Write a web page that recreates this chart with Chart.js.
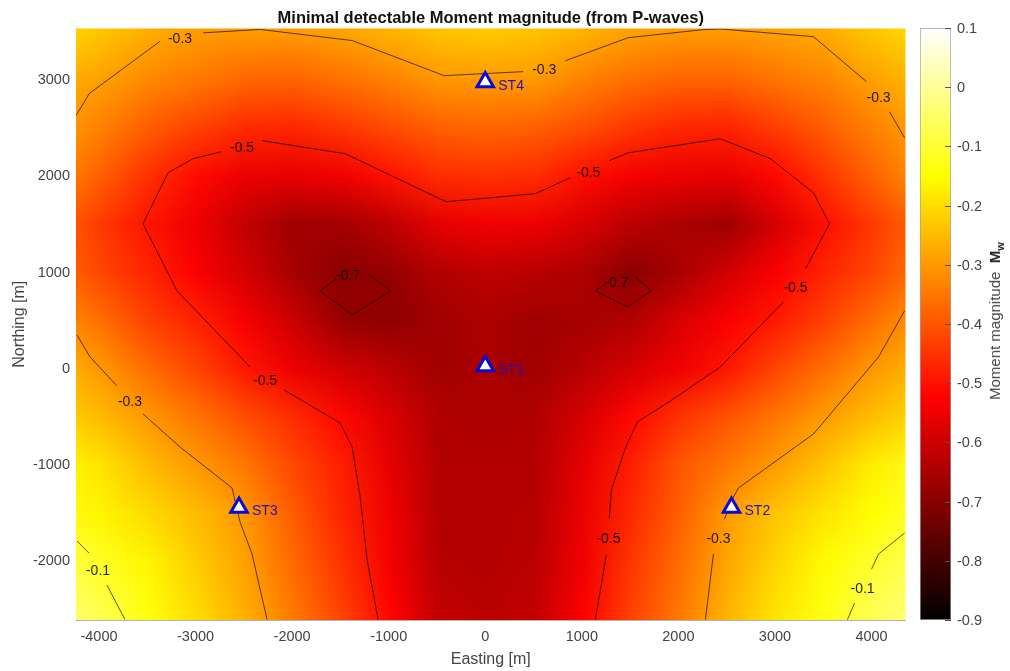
<!DOCTYPE html>
<html>
<head>
<meta charset="utf-8">
<title>Minimal detectable Moment magnitude</title>
<script src="https://cdn.jsdelivr.net/npm/chart.js@4/dist/chart.umd.min.js"></script>
<style>
  body { margin: 0; background: #fff; }
  #wrap { position: relative; width: 1010px; height: 671px; overflow: hidden; filter: blur(0.4px); }
  canvas { position: absolute; top: 0; }
  #mapChart { left: 0; }
  #barChart { left: 910px; }
  #barLabel {
    position: absolute; left: 996px; top: 321px; white-space: pre;
    transform: translate(-50%, -50%) rotate(-90deg);
    font: 15px "Liberation Sans", Arial, sans-serif; color: #444;
  }
  #barLabel b { color: #222; font-size: 15px; }
  #barLabel sub { font-size: 11px; }
</style>
</head>
<body>
<div id="wrap">
  <canvas id="mapChart" width="918" height="671"></canvas>
  <canvas id="barChart" width="100" height="671"></canvas>
  <div id="barLabel">Moment magnitude  <b>M<sub>w</sub></b></div>
</div>
<script>
// Grid, one row per northing, columns follow gridEast
const gridEast = [-4500, -4000, -3500, -3000, -2500, -2000, -1500, -1000, -500, 0, 500, 1000, 1500, 2000, 2500, 3000, 3500, 4000, 4500];
const gridNorth = [3500, 3000, 2500, 2000, 1500, 1000, 500, 0, -500, -1000, -1500, -2000, -2500, -3000];
const row3500 = [-0.20, -0.235, -0.27, -0.295, -0.30, -0.30, -0.285, -0.265, -0.24, -0.23, -0.24, -0.265, -0.29, -0.30, -0.30, -0.29, -0.275, -0.235, -0.20];
const row3000 = [-0.26, -0.29, -0.325, -0.35, -0.375, -0.38, -0.36, -0.335, -0.305, -0.30, -0.30, -0.335, -0.365, -0.38, -0.38, -0.355, -0.33, -0.29, -0.25];
const row2500 = [-0.29, -0.335, -0.39, -0.43, -0.465, -0.47, -0.445, -0.415, -0.385, -0.375, -0.385, -0.41, -0.445, -0.47, -0.475, -0.435, -0.39, -0.335, -0.285];
const row2000 = [-0.32, -0.385, -0.455, -0.51, -0.555, -0.56, -0.545, -0.50, -0.46, -0.455, -0.46, -0.505, -0.54, -0.555, -0.56, -0.515, -0.45, -0.38, -0.31];
const row1500 = [-0.37, -0.44, -0.495, -0.55, -0.615, -0.665, -0.66, -0.62, -0.565, -0.545, -0.55, -0.585, -0.625, -0.65, -0.665, -0.585, -0.505, -0.44, -0.37];
const row1000 = [-0.36, -0.42, -0.47, -0.53, -0.59, -0.655, -0.695, -0.68, -0.64, -0.62, -0.63, -0.645, -0.695, -0.65, -0.59, -0.53, -0.47, -0.42, -0.35];
const row500 = [-0.31, -0.36, -0.43, -0.475, -0.535, -0.60, -0.675, -0.69, -0.665, -0.645, -0.665, -0.655, -0.64, -0.58, -0.53, -0.485, -0.43, -0.36, -0.30];
const row0 = [-0.25, -0.30, -0.365, -0.425, -0.49, -0.55, -0.59, -0.625, -0.66, -0.65, -0.66, -0.63, -0.585, -0.545, -0.49, -0.42, -0.36, -0.30, -0.255];
const rowS500 = [-0.205, -0.25, -0.30, -0.355, -0.41, -0.46, -0.515, -0.58, -0.64, -0.645, -0.64, -0.585, -0.515, -0.45, -0.40, -0.35, -0.295, -0.245, -0.20];
const rowS1000 = [-0.14, -0.19, -0.25, -0.30, -0.35, -0.42, -0.48, -0.56, -0.635, -0.635, -0.635, -0.56, -0.48, -0.40, -0.345, -0.295, -0.235, -0.175, -0.12];
const rowS1500 = [-0.125, -0.165, -0.205, -0.25, -0.305, -0.39, -0.47, -0.545, -0.635, -0.635, -0.63, -0.55, -0.465, -0.385, -0.295, -0.235, -0.19, -0.15, -0.10];
const rowS2000 = [-0.07, -0.115, -0.165, -0.225, -0.29, -0.37, -0.45, -0.54, -0.63, -0.635, -0.625, -0.545, -0.445, -0.365, -0.28, -0.21, -0.155, -0.105, -0.06];
const rowS2500 = [-0.03, -0.075, -0.14, -0.205, -0.27, -0.35, -0.43, -0.52, -0.615, -0.63, -0.615, -0.525, -0.43, -0.35, -0.26, -0.19, -0.135, -0.07, -0.03];
const rowS3000 = [-0.01, -0.05, -0.12, -0.185, -0.25, -0.33, -0.41, -0.50, -0.60, -0.615, -0.60, -0.505, -0.41, -0.33, -0.24, -0.17, -0.115, -0.05, -0.01];
const gridRows = [row3500, row3000, row2500, row2000, row1500, row1000, row500, row0, rowS500, rowS1000, rowS1500, rowS2000, rowS2500, rowS3000];

// Contour pieces, broken where the labels sit
const contourMinus01 = [
  [[-4228, -1798], [-4104, -1923]],
  [[-3917, -2256], [-3731, -2614]],
  [[4342, -1715], [4073, -1933], [4000, -2090]],
  [[3824, -2443], [3751, -2614]]
];
const contourMinus03 = [
  [[-4238, 2620], [-4100, 2850], [-3370, 3390]],
  [[-2920, 3480], [-2330, 3515], [-1378, 3400], [-425, 3035], [394, 3077]],
  [[829, 3190], [1482, 3430], [2260, 3513], [2435, 3520], [3399, 3440], [3948, 2973]],
  [[4187, 2660], [4342, 2390]],
  [[-4228, 343], [-4093, 114], [-3813, -187]],
  [[-3544, -478], [-3161, -821], [-2622, -1247], [-2539, -1601], [-2415, -1933], [-2259, -2614]],
  [[4342, 592], [4073, 114], [3399, -686], [2622, -1247], [2570, -1341], [2477, -1570]],
  [[2363, -1933], [2280, -2614]]
];
const contourMinus05 = [
  [[-2435, 10], [-3192, 800], [-3544, 1497], [-3285, 2027], [-3026, 2173], [-2736, 2245]],
  [[-2311, 2360], [-1451, 2225], [-404, 1726], [518, 1809], [881, 1975]],
  [[1285, 2152], [1482, 2235], [2435, 2380], [2953, 2173], [3399, 1819], [3565, 1497], [3316, 1029]],
  [[3088, 686], [2435, 10], [1917, -343], [1575, -561], [1451, -832], [1306, -1268], [1285, -1570]],
  [[1254, -1944], [1140, -2614]],
  [[-2083, -229], [-1503, -572], [-1378, -821], [-1295, -1341], [-1223, -1996], [-1109, -2614]]
];
const contourMinus07 = [
  [[-1710, 800], [-1544, 925]],
  [[-1223, 977], [-974, 800], [-1378, 551], [-1710, 800]],
  [[1140, 800], [1264, 884]],
  [[1554, 946], [1720, 800], [1472, 634], [1140, 800]]
];
const contourLabels = ['-0.3', '-0.3', '-0.3', '-0.5', '-0.5', '-0.5', '-0.7', '-0.7', '-0.5', '-0.3', '-0.5', '-0.3', '-0.1', '-0.1'];
const contourLabelEast = [-3161, 611, 4073, -2518, 1067, 3212, -1420, 1358, -2280, -3679, 1275, 2415, -4010, 3907];
const contourLabelNorth = [3430, 3108, 2807, 2297, 2037, 842, 967, 894, -125, -343, -1767, -1767, -2100, -2287];

const stationNames = ['ST1', 'ST2', 'ST3', 'ST4'];
const stationEast = [0, 2550, -2550, 0];
const stationNorth = [20, -1450, -1450, 2970];

const eastingTicks = [-4000, -3000, -2000, -1000, 0, 1000, 2000, 3000, 4000];
const northingTicks = [-2000, -1000, 0, 1000, 2000, 3000];
const colorbarTicks = [-0.9, -0.8, -0.7, -0.6, -0.5, -0.4, -0.3, -0.2, -0.1, 0, 0.1];
const colorbarKnots = [-0.9, -0.525, -0.15, 0.1];

const fontName = '"Liberation Sans", Arial, sans-serif';
const textGrey = '#444';

// matlab "hot" colormap over -0.9 .. 0.1
function hotColor(v) {
  const t = Math.min(1, Math.max(0, v + 0.9));
  return [
    Math.round(255 * Math.min(1, t / 0.375)),
    Math.round(255 * Math.min(1, Math.max(0, (t - 0.375) / 0.375))),
    Math.round(255 * Math.max(0, (t - 0.75) / 0.25))
  ];
}

// paints the grid under the contours, placed with the chart's scales
const surfacePlugin = {
  id: 'surface',
  beforeDatasetsDraw(chart) {
    const { ctx, chartArea, scales } = chart;
    const cols = gridEast.length, rows = gridNorth.length;
    const off = document.createElement('canvas');
    off.width = cols;
    off.height = rows;
    const offCtx = off.getContext('2d');
    const img = offCtx.createImageData(cols, rows);
    gridRows.forEach((row, j) => {
      row.forEach((v, i) => {
        const c = hotColor(v);
        img.data.set([c[0], c[1], c[2], 255], (j * cols + i) * 4);
      });
    });
    offCtx.putImageData(img, 0, 0);
    const x0 = scales.x.getPixelForValue(gridEast[0] - 250);
    const x1 = scales.x.getPixelForValue(gridEast[cols - 1] + 250);
    const y0 = scales.y.getPixelForValue(gridNorth[0] + 250);
    const y1 = scales.y.getPixelForValue(gridNorth[rows - 1] - 250);
    ctx.save();
    ctx.beginPath();
    ctx.rect(chartArea.left, chartArea.top, chartArea.width, chartArea.height);
    ctx.clip();
    ctx.imageSmoothingEnabled = true;
    ctx.imageSmoothingQuality = 'low';
    ctx.drawImage(off, x0, y0, x1 - x0, y1 - y0);
    ctx.restore();
  }
};

// contour numbers and station names
const labelPlugin = {
  id: 'mapLabels',
  afterDatasetsDraw(chart) {
    const { ctx, scales } = chart;
    ctx.save();
    ctx.textBaseline = 'middle';
    ctx.textAlign = 'center';
    ctx.font = '14px ' + fontName;
    ctx.fillStyle = 'rgba(0,0,0,0.85)';
    contourLabels.forEach((text, i) => {
      ctx.fillText(text, scales.x.getPixelForValue(contourLabelEast[i]), scales.y.getPixelForValue(contourLabelNorth[i]) + 1);
    });
    ctx.textAlign = 'left';
    ctx.fillStyle = '#2414b8';
    stationNames.forEach((name, i) => {
      ctx.fillText(name, scales.x.getPixelForValue(stationEast[i]) + 13, scales.y.getPixelForValue(stationNorth[i]) + 4);
    });
    ctx.restore();
  }
};

function contourDatasets(pieces) {
  return pieces.map(piece => ({
    data: piece.map(p => ({ x: p[0], y: p[1] })),
    showLine: true,
    borderColor: 'rgba(0,0,0,0.65)',
    borderWidth: 1,
    pointRadius: 0,
    order: 2
  }));
}

new Chart(document.getElementById('mapChart'), {
  type: 'scatter',
  data: {
    datasets: [
      {
        label: 'Stations',
        data: stationNames.map((n, i) => ({ x: stationEast[i], y: stationNorth[i] })),
        pointStyle: 'triangle',
        pointRadius: 9.5,
        pointBorderWidth: 3,
        pointBackgroundColor: '#fff',
        pointBorderColor: '#0a0ad8',
        order: 1
      },
      ...contourDatasets(contourMinus01),
      ...contourDatasets(contourMinus03),
      ...contourDatasets(contourMinus05),
      ...contourDatasets(contourMinus07)
    ]
  },
  options: {
    responsive: false,
    animation: false,
    layout: { padding: { right: 5 } },
    scales: {
      x: {
        type: 'linear',
        min: -4238,
        max: 4352,
        afterBuildTicks: s => { s.ticks = eastingTicks.map(v => ({ value: v })); },
        afterFit: s => { s.height = 51; s.paddingLeft = 0; s.paddingRight = 0; },
        grid: { display: false, drawTicks: false },
        border: { color: 'rgba(120,120,120,0.55)' },
        ticks: { callback: v => String(v), autoSkip: false, maxRotation: 0, color: textGrey, padding: 8, font: { family: fontName, size: 14.5 } },
        title: { display: true, text: 'Easting [m]', color: textGrey, padding: { top: 0, bottom: 2 }, font: { family: fontName, size: 16 } }
      },
      y: {
        type: 'linear',
        min: -2618,
        max: 3525,
        afterBuildTicks: s => { s.ticks = northingTicks.map(v => ({ value: v })); },
        afterFit: s => { s.width = 76; },
        grid: { display: false, drawTicks: false },
        border: { color: 'rgba(120,120,120,0.55)' },
        ticks: { callback: v => String(v), autoSkip: false, color: textGrey, padding: 6, labelOffset: 1, font: { family: fontName, size: 14.5 } },
        title: { display: true, text: 'Northing [m]', color: textGrey, padding: { top: 10, bottom: 0 }, font: { family: fontName, size: 16 } }
      }
    },
    plugins: {
      legend: { display: false },
      tooltip: { enabled: false },
      title: {
        display: true,
        fullSize: false,
        text: 'Minimal detectable Moment magnitude (from P-waves)',
        color: '#111',
        padding: { top: 8.7, bottom: 0 },
        font: { family: fontName, size: 16.5, weight: 'bold' }
      }
    }
  },
  plugins: [surfacePlugin, labelPlugin]
});

// short inward tick marks on the colour bar
const barTickPlugin = {
  id: 'barTicks',
  afterDatasetsDraw(chart) {
    const { ctx, chartArea, scales } = chart;
    ctx.save();
    ctx.strokeStyle = '#555';
    colorbarTicks.forEach(v => {
      const py = Math.round(scales.y.getPixelForValue(v)) + 0.5;
      ctx.beginPath();
      ctx.moveTo(chartArea.right - 6, py);
      ctx.lineTo(chartArea.right, py);
      ctx.stroke();
    });
    ctx.restore();
  }
};

new Chart(document.getElementById('barChart'), {
  type: 'bar',
  data: {
    labels: ['Mw'],
    datasets: [{
      data: [[-0.9, 0.1]],
      barPercentage: 1,
      categoryPercentage: 1,
      borderWidth: 1,
      borderSkipped: false,
      borderColor: '#a0a0a0',
      backgroundColor: context => {
        const { ctx, chartArea, scales } = context.chart;
        if (!chartArea) return '#000';
        const g = ctx.createLinearGradient(0, scales.y.getPixelForValue(-0.9), 0, scales.y.getPixelForValue(0.1));
        colorbarKnots.forEach(v => {
          const c = hotColor(v);
          g.addColorStop(v + 0.9, 'rgb(' + c.join(',') + ')');
        });
        return g;
      }
    }]
  },
  options: {
    responsive: false,
    animation: false,
    layout: { padding: { left: 10, top: 28, bottom: 51 } },
    scales: {
      x: { display: false },
      y: {
        position: 'right',
        min: -0.9,
        max: 0.1,
        afterBuildTicks: s => { s.ticks = colorbarTicks.map(v => ({ value: v })); },
        afterFit: s => { s.width = 59; },
        grid: { display: false, drawTicks: false },
        border: { display: false },
        ticks: { callback: v => String(v), autoSkip: false, color: textGrey, padding: 6, labelOffset: 1, font: { family: fontName, size: 14.5 } }
      }
    },
    plugins: { legend: { display: false }, tooltip: { enabled: false } }
  },
  plugins: [barTickPlugin]
});
</script>
</body>
</html>
